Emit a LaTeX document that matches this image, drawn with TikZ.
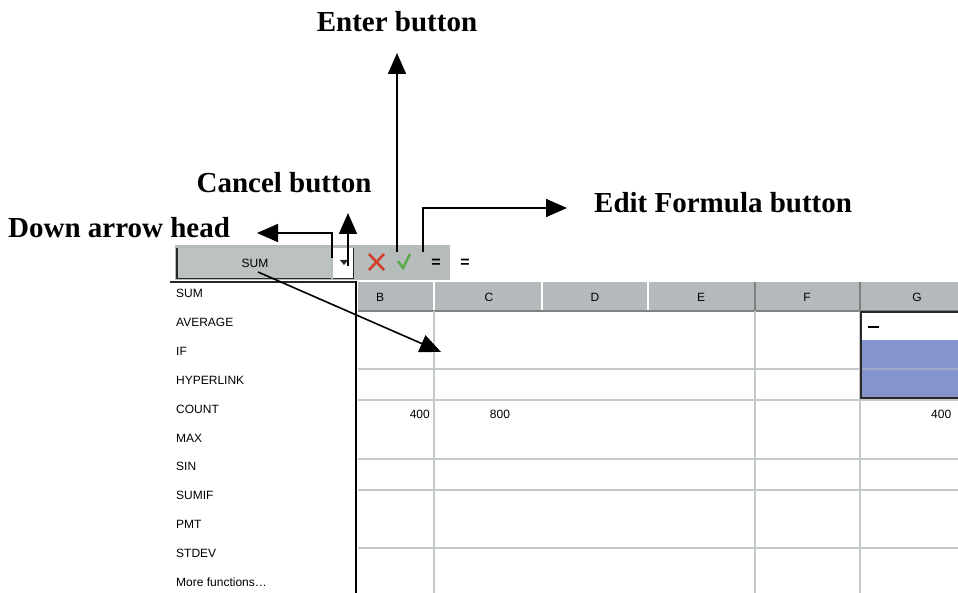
\documentclass[tikz,border=0pt]{standalone}
\usepackage{fontspec}
\setmainfont{Liberation Serif}
\newfontfamily\uifont{Liberation Sans}
\usetikzlibrary{arrows.meta}
\definecolor{tbgray}{RGB}{182,187,188}
\definecolor{boxgray}{RGB}{188,193,194}
\definecolor{hdgray}{RGB}{180,186,187}
\definecolor{gridgray}{RGB}{196,201,201}
\definecolor{selblue}{RGB}{133,148,204}
\definecolor{selline}{RGB}{160,170,200}
\definecolor{xred}{RGB}{205,65,45}
\definecolor{okgreen}{RGB}{85,170,70}
\definecolor{darkedge}{RGB}{40,40,40}
\tikzset{
  lbl/.style={inner sep=0pt, font=\fontsize{29}{34}\selectfont\bfseries},
  uitext/.style={inner sep=0pt, font=\uifont\fontsize{12}{14}\selectfont},
  hdtext/.style={inner sep=0pt, font=\uifont\fontsize{12}{14}\selectfont},
  arr/.style={line width=1.6pt, -{Triangle[length=21pt,width=18pt]}},
  grid/.style={draw=gridgray, line width=1.4pt},
}
\begin{document}
\begin{tikzpicture}[x=1pt,y=-1pt]
\useasboundingbox (0,0) rectangle (958,593);
\fill[white] (0,0) rectangle (958,593);

% toolbar band
\fill[tbgray] (175,245) rectangle (450,280);
% name box
\node[draw=none, fill=boxgray, minimum width=154pt, minimum height=30pt, inner sep=0pt, anchor=north west] (namebox) at (177,248) {};
\draw[darkedge, line width=1.2pt] (namebox.north west) -- (namebox.south west) -- (namebox.south east);
\node[hdtext] at (255,263) {SUM};
% dropdown button
\node[fill=white, minimum width=20pt, minimum height=30pt, inner sep=0pt, anchor=north west] (ddbtn) at (333,248) {};
\draw[darkedge, line width=1.2pt] (ddbtn.south west) -- (ddbtn.south east) -- (ddbtn.north east);
\fill[darkedge] (340,260) -- (348,260) -- (344,265) -- cycle;
% buttons
\draw[xred, line width=2.6pt] (369,254) -- (384,270) (384,254) -- (369,270);
\draw[okgreen, line width=2.4pt] (398,261) -- (403,268) -- (410,254);
\node[inner sep=0pt, font=\uifont\bfseries\fontsize{16}{16}\selectfont] (eqbtn) at (436,263) {=};
% formula bar
\node[fill=white, minimum width=508pt, minimum height=29pt, inner sep=0pt, anchor=north west] (fbar) at (451,248) {};
\node[inner sep=0pt, font=\uifont\bfseries\fontsize{16}{16}\selectfont] at (465,263) {=};

% column header row
\fill[hdgray] (358,282) rectangle (958,311);
\draw[white, line width=1.5pt] (434,282) -- (434,311) (542,282) -- (542,311) (648,282) -- (648,311);
\draw[gray, line width=1.2pt] (755,282) -- (755,311) (860,282) -- (860,311);
\draw[gray, line width=1.2pt] (358,311) -- (958,311);
\node[hdtext] at (380,297) {B};
\node[hdtext] at (489,297) {C};
\node[hdtext] at (595,297) {D};
\node[hdtext] at (701,297) {E};
\node[hdtext] at (807,297) {F};
\node[hdtext] at (917,297) {G};

% grid body
\foreach \yy in {369,400,459,490,548} \draw[grid] (358,\yy) -- (958,\yy);
\foreach \xx in {434,755,860} \draw[grid] (\xx,311) -- (\xx,593);

% selection in G
\fill[selblue] (862,340) rectangle (958,397);
\draw[selline, line width=1.4pt] (862,369) -- (958,369);
\draw[darkedge, line width=2.6pt] (962,312) -- (861,312) -- (861,398) -- (962,398);
\fill[black] (868,326) rectangle (879,328);

% data values
\node[uitext, anchor=base east] at (430,418) {400};
\node[uitext, anchor=base] at (500,418) {800};
\node[uitext, anchor=base west] at (931,418) {400};

% dropdown list
\fill[white] (170,282) rectangle (356,593);
\draw[darkedge, line width=1.4pt] (170,282) -- (357,282);
\draw[black, line width=2.4pt] (356,281) -- (356,593);
\foreach \name [count=\i from 0] in {SUM,AVERAGE,IF,HYPERLINK,COUNT,MAX,SIN,SUMIF,PMT,STDEV}
  \node[uitext, anchor=base west] at (176,{298+28.8*\i}) {\name};
\node[uitext, anchor=base west] at (176,586) {More functions\ldots};

% labels
\node[lbl, anchor=base] (enterlbl) at (397,32) {Enter button};
\node[lbl, anchor=base] (cancellbl) at (284,193) {Cancel button};
\node[lbl, anchor=base west] (editlbl) at (594,213) {Edit Formula button};
\node[lbl, anchor=base west] (downlbl) at (8,238) {Down arrow head};

% connector end points
\coordinate (enterpt) at (397,252);
\coordinate (entertip) at (397,53);
\coordinate (editpt) at (423,252);
\coordinate (edittip) at (567,208);
\coordinate (cancelpt) at (348,266);
\coordinate (canceltip) at (348,213);
\coordinate (downpt) at (332,258);
\coordinate (downtip) at (257,233);
\coordinate (sumpt) at (258,272);
\coordinate (celltip) at (441,352);

\draw[arr] (enterpt) -- (entertip);
\draw[arr] (editpt) |- (edittip);
\draw[arr] (cancelpt) -- (canceltip);
\draw[arr] (downpt) |- (downtip);
\draw[arr] (sumpt) -- (celltip);
\end{tikzpicture}
\end{document}
